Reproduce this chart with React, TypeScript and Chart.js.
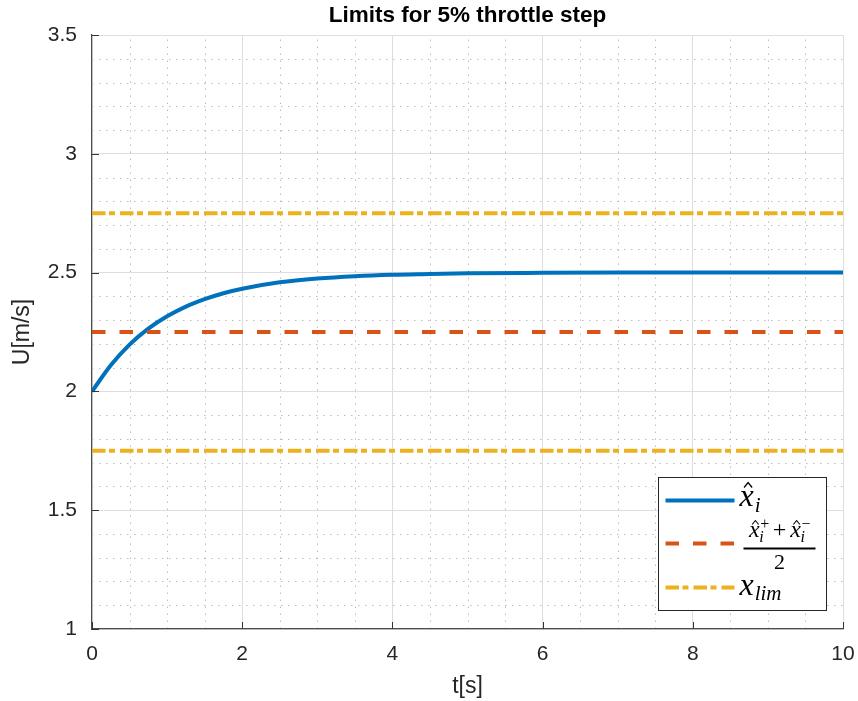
import { useEffect, useRef } from "react";
import { Chart, registerables } from "chart.js";

Chart.register(...registerables);

// Time axis samples [s] and the estimated speed x̂_i [m/s]
const timeS = [0, 0.25, 0.5, 0.75, 1, 1.25, 1.5, 1.75, 2, 2.5, 3, 3.5, 4, 4.5, 5, 6, 7, 8, 9, 10];
const speedEstimate = [
  2.0, 2.11, 2.197, 2.264, 2.316, 2.357, 2.388, 2.413, 2.432, 2.459, 2.475, 2.485, 2.491, 2.494,
  2.497, 2.499, 2.5, 2.5, 2.5, 2.5,
];

// Mid value (x̂⁺ + x̂⁻)/2 and the limit band x_lim
const midValue = 2.25;
const upperLimit = 2.75;
const lowerLimit = 1.75;

// Axis ranges and tick spacing
const xRange = [0, 10];
const yRange = [1, 3.5];
const xTickStep = 2;
const yTickStep = 0.5;
const xMinorStep = 0.5;
const yMinorStep = 0.1;

const titleText = "Limits for 5% throttle step";
const xTitle = "t[s]";
const yTitle = "U[m/s]";

const SANS = '"Liberation Sans", Arial, Helvetica, sans-serif';
const SERIF = '"Liberation Serif", "Times New Roman", serif';
const TEXT = "#262626";
const AXIS = "#4d4d4d";

const BLUE = "#0072BD";
const ORANGE = "#D95319";
const YELLOW = "#EDB120";
const DASH = [13.5, 14];
const DASH_DOT = [13.5, 3.5, 6, 5];

function isMajor(v: number, step: number) {
  const r = v / step;
  return Math.abs(r - Math.round(r)) < 1e-6;
}

// Dotted minor grid behind everything
const minorGrid = {
  id: "minorGrid",
  beforeDraw(chart: any) {
    const { ctx, chartArea: a, scales } = chart;
    const xs = scales.x;
    const ys = scales.y;
    ctx.save();
    ctx.strokeStyle = "#bdbdbd";
    ctx.lineWidth = 1;
    ctx.setLineDash([1.5, 5.5]);
    for (let i = 1; xRange[0] + i * xMinorStep < xRange[1] - 1e-9; i++) {
      const v = xRange[0] + i * xMinorStep;
      if (isMajor(v, xTickStep)) continue;
      const px = Math.round(xs.getPixelForValue(v)) + 0.5;
      ctx.beginPath();
      ctx.moveTo(px, a.bottom);
      ctx.lineTo(px, a.top);
      ctx.stroke();
    }
    for (let i = 1; yRange[0] + i * yMinorStep < yRange[1] - 1e-9; i++) {
      const v = yRange[0] + i * yMinorStep;
      if (isMajor(v - yRange[0], yTickStep)) continue;
      const py = Math.round(ys.getPixelForValue(v)) + 0.5;
      ctx.beginPath();
      ctx.moveTo(a.left, py);
      ctx.lineTo(a.right, py);
      ctx.stroke();
    }
    ctx.restore();
  },
};

function hat(ctx: CanvasRenderingContext2D, cx: number, top: number, w: number, h: number) {
  ctx.beginPath();
  ctx.moveTo(cx - w / 2, top + h);
  ctx.lineTo(cx, top);
  ctx.lineTo(cx + w / 2, top + h);
  ctx.stroke();
}

// Inward tick marks, title and the math legend
const overlay = {
  id: "overlay",
  afterDraw(chart: any) {
    const { ctx, chartArea: a, scales } = chart;
    ctx.save();

    // inward ticks
    ctx.strokeStyle = "#333";
    ctx.lineWidth = 1;
    ctx.setLineDash([]);
    for (const t of scales.x.ticks) {
      const px = Math.round(scales.x.getPixelForValue(t.value)) + 0.5;
      ctx.beginPath();
      ctx.moveTo(px, a.bottom);
      ctx.lineTo(px, a.bottom - 7);
      ctx.stroke();
    }
    for (const t of scales.y.ticks) {
      const py = Math.round(scales.y.getPixelForValue(t.value)) + 0.5;
      ctx.beginPath();
      ctx.moveTo(a.left, py);
      ctx.lineTo(a.left + 7, py);
      ctx.stroke();
    }

    // title, centred over the plot area
    ctx.fillStyle = "#000";
    ctx.font = `bold 22.5px ${SANS}`;
    ctx.textAlign = "center";
    ctx.textBaseline = "alphabetic";
    ctx.fillText(titleText, (a.left + a.right) / 2, 22);

    // legend box
    const bw = 168;
    const bh = 133;
    const bx = Math.round(a.right - 17.5 - bw) + 0.5;
    const by = Math.round(a.bottom - 19.5 - bh) + 0.5;
    ctx.fillStyle = "#fff";
    ctx.fillRect(bx, by, bw, bh);
    ctx.strokeStyle = "#262626";
    ctx.lineWidth = 1;
    ctx.strokeRect(bx, by, bw, bh);

    const lx0 = bx + 7;
    const lx1 = bx + 76;
    const rows = [by + 23, by + 66, by + 110];
    const styles = [
      { c: BLUE, d: [] as number[] },
      { c: ORANGE, d: DASH },
      { c: YELLOW, d: DASH_DOT },
    ];
    styles.forEach((s, i) => {
      ctx.strokeStyle = s.c;
      ctx.lineWidth = 4;
      ctx.lineCap = "butt";
      ctx.setLineDash(s.d);
      ctx.beginPath();
      ctx.moveTo(lx0, rows[i]);
      ctx.lineTo(lx1, rows[i]);
      ctx.stroke();
    });
    ctx.setLineDash([]);

    ctx.fillStyle = "#000";
    ctx.strokeStyle = "#000";
    ctx.textAlign = "left";
    ctx.textBaseline = "alphabetic";
    const tx = bx + 81;

    // x̂_i
    ctx.font = `italic 32px ${SERIF}`;
    let w = ctx.measureText("x").width;
    ctx.fillText("x", tx, rows[0] + 5);
    ctx.lineWidth = 1.3;
    hat(ctx, tx + w / 2 + 1.5, rows[0] - 18, 8, 5);
    ctx.font = `italic 21px ${SERIF}`;
    ctx.fillText("i", tx + w + 1, rows[0] + 11);

    // (x̂_i⁺ + x̂_i⁻) / 2, numerator centred on the bar
    const barL = tx + 4;
    const barW = 72;
    const nb = rows[1] - 7;
    ctx.font = `italic 24px ${SERIF}`;
    const wx = ctx.measureText("x").width;
    ctx.font = `24px ${SERIF}`;
    const wp = ctx.measureText("+").width;
    ctx.font = `16px ${SERIF}`;
    const ws = ctx.measureText("+").width;
    const gap = 4;
    const total = wx + ws + gap + wp + gap + wx + ws;
    let nx = barL + (barW - total) / 2;
    const term = (sup: string) => {
      ctx.font = `italic 24px ${SERIF}`;
      ctx.fillText("x", nx, nb);
      ctx.lineWidth = 1.1;
      hat(ctx, nx + wx / 2 + 1, nb - 16, 6.5, 4);
      nx += wx + 0.5;
      ctx.font = `16px ${SERIF}`;
      ctx.fillText(sup, nx, nb - 8);
      ctx.font = `italic 16px ${SERIF}`;
      ctx.fillText("i", nx - 1, nb + 5);
      nx += ws - 0.5;
    };
    term("+");
    nx += gap;
    ctx.font = `24px ${SERIF}`;
    ctx.fillText("+", nx, nb);
    nx += wp + gap;
    term("\u2212");
    ctx.fillRect(barL, rows[1] + 4, barW, 2);
    ctx.font = `22px ${SERIF}`;
    ctx.textAlign = "center";
    ctx.fillText("2", barL + barW / 2, rows[1] + 25);
    ctx.textAlign = "left";

    // x_lim
    ctx.font = `italic 32px ${SERIF}`;
    w = ctx.measureText("x").width;
    ctx.fillText("x", tx, rows[2] + 7);
    ctx.font = `italic 21px ${SERIF}`;
    ctx.fillText("lim", tx + w + 1, rows[2] + 12);

    ctx.restore();
  },
};

function flat(v: number) {
  return [
    { x: xRange[0], y: v },
    { x: xRange[1], y: v },
  ];
}

const plainLabel = (v: number | string) => String(Number(v));

export default function App() {
  const canvasRef = useRef<HTMLCanvasElement | null>(null);

  useEffect(() => {
    const canvas = canvasRef.current;
    if (!canvas) return;
    const chart = new Chart(canvas, {
      type: "line",
      data: {
        datasets: [
          {
            label: "x̂_i",
            data: timeS.map((t, i) => ({ x: t, y: speedEstimate[i] })),
            borderColor: BLUE,
            borderWidth: 4,
            pointRadius: 0,
            cubicInterpolationMode: "monotone",
            order: 3,
          },
          {
            label: "(x̂⁺+x̂⁻)/2",
            data: flat(midValue),
            borderColor: ORANGE,
            borderWidth: 4,
            borderDash: DASH,
            pointRadius: 0,
            order: 2,
          },
          {
            label: "x_lim",
            data: flat(upperLimit),
            borderColor: YELLOW,
            borderWidth: 4,
            borderDash: DASH_DOT,
            pointRadius: 0,
            order: 1,
          },
          {
            label: "x_lim (lower)",
            data: flat(lowerLimit),
            borderColor: YELLOW,
            borderWidth: 4,
            borderDash: DASH_DOT,
            pointRadius: 0,
            order: 1,
          },
        ],
      },
      options: {
        animation: false,
        responsive: false,
        maintainAspectRatio: false,
        parsing: false as any,
        layout: { padding: { top: 35, right: 15, left: 0, bottom: 0 } },
        plugins: {
          legend: { display: false },
          title: { display: false },
          tooltip: { enabled: false },
        },
        scales: {
          x: {
            type: "linear",
            min: xRange[0],
            max: xRange[1],
            ticks: {
              stepSize: xTickStep,
              color: TEXT,
              font: { family: SANS, size: 21 },
              padding: 13,
              maxRotation: 0,
              callback: plainLabel,
            },
            grid: { color: "#dedede", lineWidth: 1, drawTicks: false },
            border: { display: true, color: AXIS, width: 1.2 },
            title: {
              display: true,
              text: xTitle,
              color: TEXT,
              font: { family: SANS, size: 23 },
              padding: { top: 0, bottom: 1 },
            },
            afterFit(s: any) {
              s.height = 72;
              s.paddingLeft = 0;
              s.paddingRight = 0;
            },
          },
          y: {
            type: "linear",
            min: yRange[0],
            max: yRange[1],
            ticks: {
              stepSize: yTickStep,
              color: TEXT,
              font: { family: SANS, size: 21 },
              padding: 15,
              callback: plainLabel,
            },
            grid: { color: "#dedede", lineWidth: 1, drawTicks: false },
            border: { display: true, color: AXIS, width: 1.2 },
            title: {
              display: true,
              text: yTitle,
              color: TEXT,
              font: { family: SANS, size: 23 },
              padding: { top: 9, bottom: 0 },
            },
            afterFit(s: any) {
              s.width = 92;
              s.paddingTop = 0;
              s.paddingBottom = 0;
            },
          },
        },
      },
      plugins: [minorGrid, overlay],
    });
    return () => chart.destroy();
  }, []);

  return (
    <div style={{ position: "fixed", left: 0, top: 0, width: 858, height: 701, background: "#fff" }}>
      <canvas ref={canvasRef} width={858} height={701} style={{ display: "block" }} />
    </div>
  );
}
